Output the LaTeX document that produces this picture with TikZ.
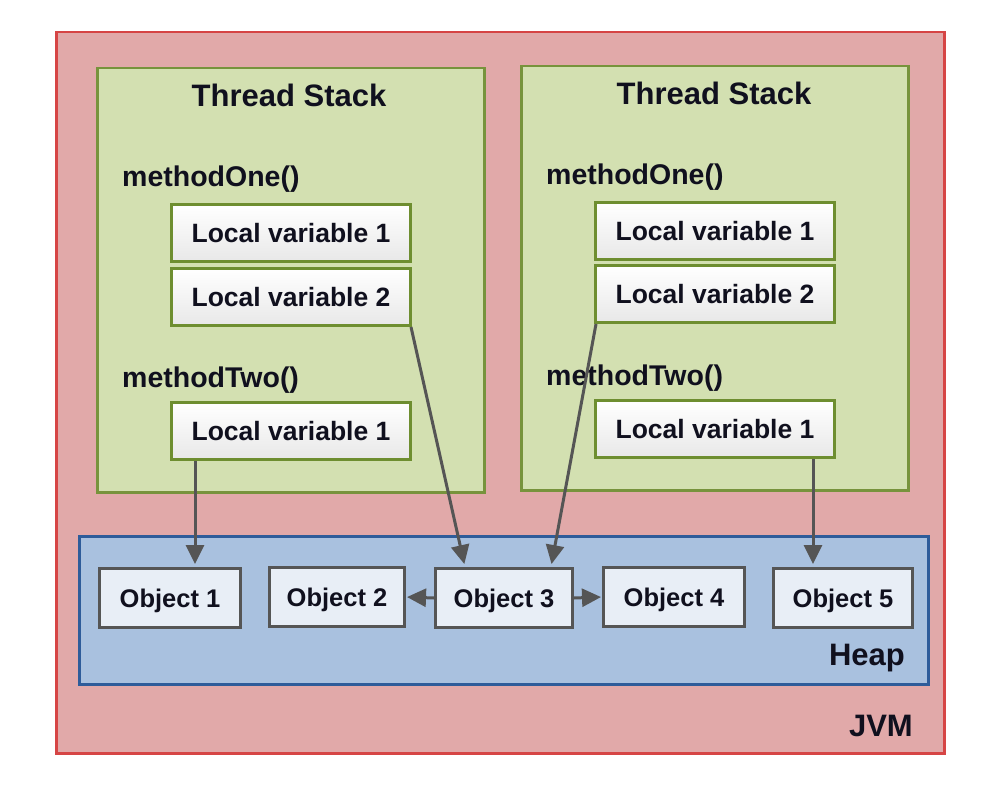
\documentclass[tikz,border=0pt]{standalone}
\usepackage{fontspec}
\setmainfont{Liberation Sans}
\usetikzlibrary{arrows.meta,calc}
\definecolor{jvmfill}{HTML}{E1A9A9}
\definecolor{jvmline}{HTML}{D64545}
\definecolor{tsfill}{HTML}{D3E0B1}
\definecolor{tsline}{HTML}{77933C}
\definecolor{lvline}{HTML}{6E8E30}
\definecolor{heapfill}{HTML}{A9C1DF}
\definecolor{heapline}{HTML}{2E5C9A}
\definecolor{objfill}{HTML}{E8EEF6}
\definecolor{objline}{HTML}{555555}
\definecolor{txt}{HTML}{10101E}
\tikzset{
  container/.style={draw, line width=2.5pt, anchor=north west, inner sep=0pt},
  lvbox/.style={draw=lvline, line width=3pt, top color=white, bottom color=black!9,
    minimum width=239pt, minimum height=57pt, anchor=north west, inner sep=0pt,
    font=\fontsize{26.5}{26}\selectfont\bfseries, text=txt, text height=18.5pt, text depth=0pt},
  objbox/.style={draw=objline, line width=3pt, fill=objfill,
    minimum height=59pt, anchor=north west, inner sep=0pt,
    font=\fontsize{25.5}{26}\selectfont\bfseries, text=txt, text height=18.5pt, text depth=0pt},
  title/.style={font=\fontsize{31}{31}\selectfont\bfseries, text=txt, inner sep=0pt},
  method/.style={font=\fontsize{28.5}{29}\selectfont\bfseries, text=txt, inner sep=0pt, anchor=base west},
  arr/.style={draw=objline, line width=3pt, -{Triangle[length=19pt,width=18pt]}, shorten >=3pt},
}
\begin{document}
\begin{tikzpicture}[x=1pt,y=-1pt]
\useasboundingbox (0,0) rectangle (992,786);
\fill[white] (0,0) rectangle (992,786);
% JVM
\node[container, draw=jvmline, fill=jvmfill, minimum width=888pt, minimum height=721pt] (jvm) at (55,31) {};
\node[title, anchor=base east] (jvmlabel) at (913,736) {JVM};
% Thread stacks
\node[container, draw=tsline, fill=tsfill, minimum width=387pt, minimum height=424pt] (ts1) at (96,67) {};
\node[container, draw=tsline, fill=tsfill, minimum width=387pt, minimum height=424pt] (ts2) at (520,65) {};
\node[title, anchor=base] (ts1t) at (289,107) {Thread Stack};
\node[title, anchor=base] (ts2t) at (714,105) {Thread Stack};
% Left stack
\node[method] (m1a) at (122,187) {methodOne()};
\node[lvbox] (a1) at (170,203) {Local variable 1};
\node[lvbox] (a2) at (170,267) {Local variable 2};
\node[method] (m2a) at (122,387) {methodTwo()};
\node[lvbox] (a3) at (170,401) {Local variable 1};
% Right stack
\node[method] (m1b) at (546,185) {methodOne()};
\node[lvbox] (b1) at (594,201) {Local variable 1};
\node[lvbox] (b2) at (594,264) {Local variable 2};
\node[method] (m2b) at (546,385) {methodTwo()};
\node[lvbox] (b3) at (594,399) {Local variable 1};
% Heap
\node[container, draw=heapline, fill=heapfill, minimum width=849pt, minimum height=148pt] (heap) at (78,535) {};
\node[title, anchor=base east] (heapt) at (905,665) {Heap};
\node[objbox, minimum width=141pt] (o1) at (98,567) {Object 1};
\node[objbox, minimum width=135pt] (o2) at (268,566) {Object 2};
\node[objbox, minimum width=137pt] (o3) at (434,567) {Object 3};
\node[objbox, minimum width=141pt] (o4) at (602,566) {Object 4};
\node[objbox, minimum width=139pt] (o5) at (772,567) {Object 5};
% Arrows
\coordinate (s1) at ([xshift=25pt]a3.south west);
\draw[arr] (s1) -- (s1 |- o1.north);
\coordinate (e3a) at ([xshift=31pt]o3.north west);
\draw[arr] ([xshift=-1pt]a2.south east) -- (e3a);
\coordinate (e3b) at ([xshift=-23pt]o3.north east);
\draw[arr] ([xshift=2pt]b2.south west) -- (e3b);
\coordinate (s5) at ([xshift=-23pt]b3.south east);
\draw[arr] (s5) -- (s5 |- o5.north);
\draw[arr, shorten >=1pt] (o3.west) -- (o2.east);
\draw[arr, shorten >=1pt] (o3.east) -- (o4.west);
\end{tikzpicture}
\end{document}
